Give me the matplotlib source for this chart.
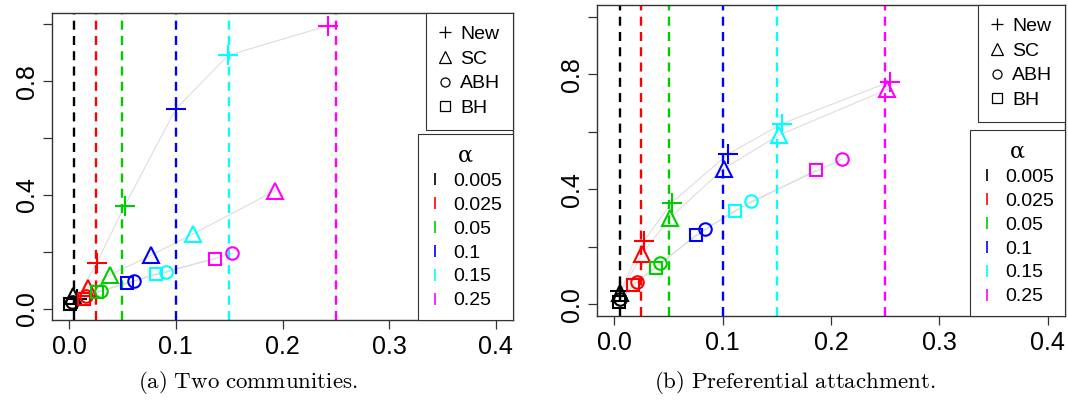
import matplotlib.pyplot as plt
from matplotlib.lines import Line2D

plt.rcParams['font.family'] = ['Liberation Sans', 'DejaVu Sans']
plt.rcParams['mathtext.fontset'] = 'cm'
plt.rcParams['lines.scale_dashes'] = False

# nominal levels and their colours
alphas = [0.005, 0.025, 0.05, 0.1, 0.15, 0.25]
alpha_labels = ['0.005', '0.025', '0.05', '0.1', '0.15', '0.25']
alpha_colors = ['black', 'red', '#00CD00', 'blue', 'cyan', 'magenta']

methods = ['New', 'SC', 'ABH', 'BH']
markers = ['+', '^', 'o', 's']

# (a) two communities: x = FDR, y = power (one point per alpha)
comm_new_x = [0.007, 0.026, 0.052, 0.100, 0.149, 0.243]
comm_new_y = [0.035, 0.161, 0.361, 0.702, 0.891, 0.996]
comm_sc_x = [0.004, 0.018, 0.038, 0.077, 0.116, 0.193]
comm_sc_y = [0.045, 0.074, 0.118, 0.188, 0.262, 0.415]
comm_abh_x = [0.003, 0.016, 0.030, 0.061, 0.091, 0.153]
comm_abh_y = [0.022, 0.043, 0.062, 0.097, 0.129, 0.194]
comm_bh_x = [0.001, 0.014, 0.026, 0.054, 0.081, 0.137]
comm_bh_y = [0.015, 0.035, 0.059, 0.090, 0.121, 0.176]

# (b) preferential attachment
pa_new_x = [0.0055, 0.027, 0.053, 0.105, 0.155, 0.254]
pa_new_y = [0.046, 0.219, 0.354, 0.522, 0.628, 0.773]
pa_sc_x = [0.0055, 0.0256, 0.051, 0.101, 0.152, 0.252]
pa_sc_y = [0.040, 0.176, 0.300, 0.472, 0.588, 0.747]
pa_abh_x = [0.005, 0.021, 0.042, 0.084, 0.1265, 0.210]
pa_abh_y = [0.020, 0.077, 0.144, 0.261, 0.358, 0.504]
pa_bh_x = [0.004, 0.017, 0.038, 0.075, 0.111, 0.186]
pa_bh_y = [0.008, 0.067, 0.127, 0.240, 0.325, 0.466]

marker_sizes = [14, 11.5, 9, 9.3]
legend_sizes = [9, 8, 6.5, 6.5]


def draw_panel(ax, xs, ys):
    # grey connecting lines
    for x, y in zip(xs, ys):
        ax.plot(x, y, color='#dddddd', lw=0.8, zorder=1)
    # dashed lines at nominal levels
    for a, c in zip(alphas, alpha_colors):
        ax.axvline(a, color=c, lw=1.7, ls=(0, (6.5, 4.5)), zorder=2)
    # open symbols coloured by alpha
    for x, y, m, s in zip(xs, ys, markers, marker_sizes):
        for i in range(len(alphas)):
            ax.plot(x[i], y[i], ls='none', marker=m, ms=s, mfc='none',
                    mec=alpha_colors[i], mew=1.5, zorder=3)

    ax.set_xlim(-0.016, 0.416)
    ax.set_ylim(-0.04, 1.04)
    ax.set_xticks([0, 0.1, 0.2, 0.3, 0.4])
    ax.set_xticklabels(['0.0', '0.1', '0.2', '0.3', '0.4'])
    ax.set_yticks([0, 0.2, 0.4, 0.6, 0.8, 1.0])
    ax.set_yticklabels(['0.0', '', '0.4', '', '0.8', ''], rotation=90, va='center')
    ax.tick_params(direction='out', length=6.5, width=0.9, labelsize=18, color='#333333')
    ax.tick_params(axis='x', pad=4)
    ax.tick_params(axis='y', pad=3)
    for sp in ax.spines.values():
        sp.set_color('#333333')
        sp.set_linewidth(1.0)

    h1 = [Line2D([], [], ls='none', marker=m, color='black', ms=s, mfc='none', mew=0.9)
          for m, s in zip(markers, legend_sizes)]
    leg1 = ax.legend(h1, methods, loc='upper right', bbox_to_anchor=(1, 1),
                     borderaxespad=0, fontsize=14, handlelength=0.6,
                     handletextpad=0.5, borderpad=0.65, labelspacing=0.36,
                     fancybox=False, edgecolor='#333333', framealpha=1)
    leg1.get_frame().set_linewidth(0.8)
    ax.add_artist(leg1)

    h2 = [Line2D([], [], ls='none', marker='|', color=c, ms=8.5, mew=1.2)
          for c in alpha_colors]
    leg2 = ax.legend(h2, alpha_labels, loc='lower right', bbox_to_anchor=(1, 0),
                     borderaxespad=0, fontsize=14, handlelength=0.65,
                     handletextpad=0.62, borderpad=0.55, labelspacing=0.32,
                     title='α', title_fontproperties={'family': 'DejaVu Serif', 'size': 16},
                     fancybox=False, edgecolor='#333333', framealpha=1)
    leg2.get_frame().set_linewidth(0.8)


fig = plt.figure(figsize=(10.68, 4.05), dpi=100)
ax1 = fig.add_axes([52 / 1068, 85 / 405, 461 / 1068, 307 / 405])
ax2 = fig.add_axes([597 / 1068, 89 / 405, 468 / 1068, 311 / 405])

draw_panel(ax1, [comm_new_x, comm_sc_x, comm_abh_x, comm_bh_x],
           [comm_new_y, comm_sc_y, comm_abh_y, comm_bh_y])
draw_panel(ax2, [pa_new_x, pa_sc_x, pa_abh_x, pa_bh_x],
           [pa_new_y, pa_sc_y, pa_abh_y, pa_bh_y])

fig.text(247.5 / 1068, 17 / 405, r'$\mathrm{(a)\ Two\ communities.}$',
         ha='center', va='baseline', fontsize=16.5)
fig.text(795 / 1068, 17 / 405, r'$\mathrm{(b)\ Preferential\ attachment.}$',
         ha='center', va='baseline', fontsize=16.5)

fig.savefig('out.png', dpi=100)
